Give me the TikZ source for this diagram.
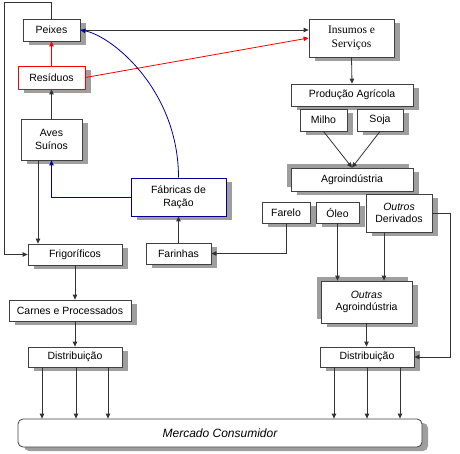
\documentclass[tikz,border=0pt]{standalone}
\usepackage{fontspec}
\setmainfont{Liberation Sans}
\newfontfamily\seriffont{Liberation Serif}
\usetikzlibrary{arrows.meta,shadows}

\begin{document}
\begin{tikzpicture}
	[
		x = 1pt, y = -1pt,
		box/.style = {draw=black!75, fill=white, thick, inner sep=0pt, align=center,
			font=\fontsize{10.5}{12.5}\selectfont,
			drop shadow={shadow xshift=6pt, shadow yshift=-4pt, fill=black!38, opacity=1}},
		boxul/.style = {box, drop shadow={shadow xshift=-4pt, shadow yshift=4pt, fill=black!38, opacity=1}},
		redbox/.style = {box, draw=red},
		bluebox/.style = {box, draw=blue!60!black},
		serifbox/.style = {box, font=\seriffont\fontsize{11.5}{13.5}\selectfont},
		roundbox/.style = {box, rounded corners=5pt},
		arr/.style = {draw=black!80, thick, -{Triangle[length=5pt,width=4.5pt]}},
		redarr/.style = {arr, draw=red, -{Triangle[length=5pt,width=4.5pt,fill=red]}},
		bluearr/.style = {arr, draw=blue!60!black, -{Triangle[length=5pt,width=4.5pt,fill=blue!60!black]}},
		plain/.style = {draw=black!80, thick}]

	\useasboundingbox (0,0) rectangle (460,454);

	% lado esquerdo
	\node[box, minimum width=57, minimum height=22] (peixes) at (51.5,30) {Peixes};
	\node[redbox, minimum width=67, minimum height=23] (residuos) at (51.5,77.5) {Resíduos};
	\node[box, minimum width=61, minimum height=41] (aves) at (51.5,139.5) {Aves\\Suínos};
	\node[bluebox, minimum width=95, minimum height=38] (fabricas) at (178.5,197) {Fábricas de\\Ração};
	\node[box, minimum width=65, minimum height=21] (farinhas) at (178.5,253.5) {Farinhas};
	\node[box, minimum width=94, minimum height=21] (frigo) at (75,254.5) {Frigoríficos};
	\node[box, minimum width=122, minimum height=21] (carnes) at (70,310.5) {Carnes e Processados};
	\node[box, minimum width=94, minimum height=20] (distL) at (75,357) {Distribuição};

	% lado direito
	\node[serifbox, minimum width=85, minimum height=38] (insumos) at (351.5,38) {Insumos e\\Serviços};
	\node[box, minimum width=122, minimum height=22] (producao) at (352,95) {Produção Agrícola};
	\node[box, minimum width=47, minimum height=22] (milho) at (323.5,120) {Milho};
	\node[box, minimum width=46, minimum height=22] (soja) at (380,120) {Soja};
	\node[boxul, minimum width=122, minimum height=23] (agro) at (352,179.5) {Agroindústria};
	\node[box, minimum width=48, minimum height=21] (farelo) at (286,212.5) {Farelo};
	\node[box, minimum width=43, minimum height=21] (oleo) at (337.5,212.5) {Óleo};
	\node[box, minimum width=66, minimum height=38] (derivados) at (399,213) {\textit{Outros}\\Derivados};
	\node[boxul, minimum width=91, minimum height=42] (outras) at (366.5,302) {\textit{Outras}\\Agroindústria};
	\node[box, minimum width=94, minimum height=20] (distR) at (367,357) {Distribuição};

	\node[roundbox, minimum width=404, minimum height=28, font=\itshape\fontsize{12}{14}\selectfont] (mercado) at (220,433) {Mercado Consumidor};

	% ligacoes
	\coordinate (canto) at (4,2);
	\draw[arr] (peixes.north) |- (canto) |- (frigo.west);
	\draw[arr] (peixes.east) -- (peixes.east -| insumos.west);
	\draw[redarr] (residuos.east) -- (insumos.west);
	\draw[redarr] (residuos.north) -- (peixes.south);
	\draw[arr] (aves.north) -- (residuos.south);
	\draw[arr] ([xshift=-13.5pt]aves.south) -- ([xshift=-13.5pt]aves.south |- frigo.north);
	\draw[bluearr] (fabricas.west) -| (aves.south);
	\draw[bluearr] (fabricas.north) .. controls (178.5,90) and (112,36) .. (peixes.east);
	\draw[arr] (farinhas.north) -- (fabricas.south);
	\draw[arr] (frigo.south) -- (frigo.south |- carnes.north);
	\draw[arr] (frigo.south |- carnes.south) -- (frigo.south |- distL.north);

	\draw[arr] (insumos.south) -- (producao.north);
	\draw[arr] (milho.south) -- (agro.north);
	\draw[arr] (soja.south) -- (agro.north);
	\draw[arr] (farelo.south) |- (farinhas.east);
	\draw[arr] (oleo.south) -- (oleo.south |- outras.north);
	\draw[arr] ([xshift=-15pt]derivados.south) -- ([xshift=-15pt]derivados.south |- outras.north);
	\draw[arr] (derivados.east) -- ++(18,0) |- (distR.east);
	\draw[arr] (outras.south) -- (outras.south |- distR.north);

	\foreach \dx in {-33,1,33}
		\draw[arr] ([xshift=\dx pt]distL.south) -- ([xshift=\dx pt]distL.south |- mercado.north);
	\foreach \dx in {-33,0,33}
		\draw[arr] ([xshift=\dx pt]distR.south) -- ([xshift=\dx pt]distR.south |- mercado.north);
\end{tikzpicture}
\end{document}
